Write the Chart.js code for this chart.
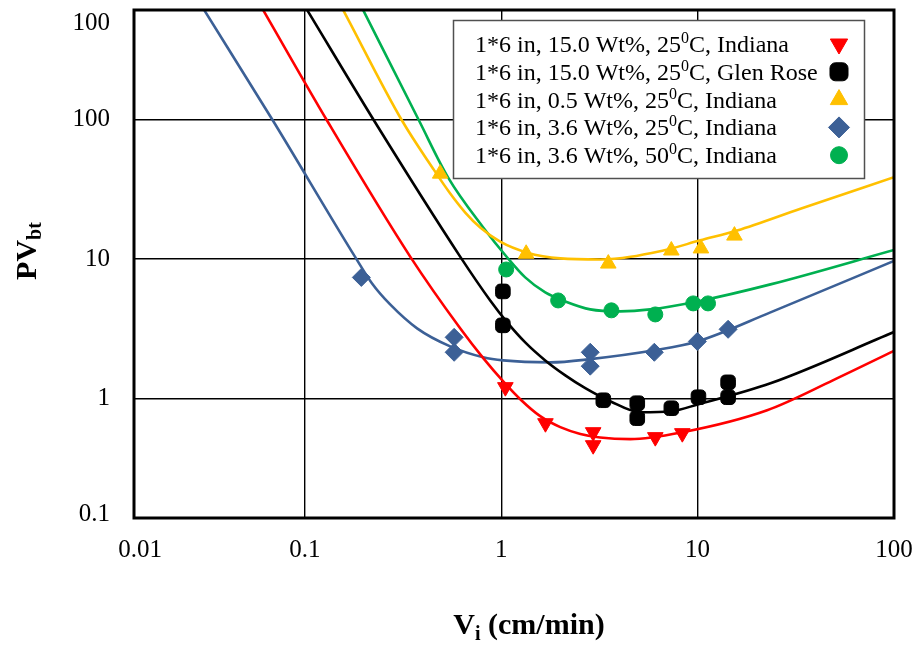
<!DOCTYPE html>
<html>
<head>
<meta charset="utf-8">
<script src="https://cdn.jsdelivr.net/npm/chart.js@4/dist/chart.umd.min.js"></script>
<style>
  html, body { margin: 0; padding: 0; background: #fff; }
</style>
</head>
<body>
<canvas id="pvChart" width="917" height="646"></canvas>
<script>
// tick positions and the labels printed on them (the original axis labels are off by a decade at the ends)
const xTickValues = [0.0145, 0.1, 1, 10, 100];
const xTickLabels = ['0.01', '0.1', '1', '10', '100'];
const yTickValues = [0.1496, 1, 10, 100, 481];
const yTickLabels = ['0.1', '1', '10', '100', '100'];

const seriesLabels = [
  '1*6 in, 15.0 Wt%, 25^0C, Indiana',
  '1*6 in, 15.0 Wt%, 25^0C, Glen Rose',
  '1*6 in, 0.5 Wt%, 25^0C, Indiana',
  '1*6 in, 3.6 Wt%, 25^0C, Indiana',
  '1*6 in, 3.6 Wt%, 50^0C, Indiana'
];
const seriesColors = ['#ff0000', '#000000', '#ffc000', '#3c6096', '#00b050'];

// measured points
const redX = [1.05, 1.68, 2.94, 2.94, 6.09, 8.36];
const redY = [1.21, 0.668, 0.576, 0.465, 0.531, 0.567];
const blackX = [1.02, 1.02, 3.31, 4.93, 4.93, 7.35, 10.1, 14.3, 14.3];
const blackY = [5.86, 3.35, 0.975, 0.929, 0.726, 0.855, 1.025, 1.31, 1.025];
const yellowX = [0.489, 1.34, 3.51, 7.35, 10.4, 15.4];
const yellowY = [40.8, 10.9, 9.27, 11.5, 11.9, 14.7];
const blueX = [0.194, 0.576, 0.576, 2.84, 2.84, 6.02, 9.97, 14.3];
const blueY = [7.38, 2.75, 2.15, 2.15, 1.71, 2.15, 2.57, 3.14];
const greenX = [1.06, 1.95, 3.64, 6.09, 9.5, 11.3];
const greenY = [8.41, 5.05, 4.29, 4.01, 4.81, 4.81];

// fitted curves
const redFitX = [0.0613, 0.130, 0.344, 0.618, 0.810, 1.024, 1.25, 1.58, 2.00, 2.53, 3.19, 4.54, 8.36, 22.6, 49.1, 100];
const redFitY = [606, 97.5, 10.4, 3.19, 1.95, 1.33, 0.992, 0.750, 0.626, 0.560, 0.528, 0.514, 0.576, 0.828, 1.36, 2.2];
const blackFitX = [0.1027, 0.2255, 0.618, 0.879, 1.073, 1.325, 1.676, 2.12, 2.68, 3.59, 5.11, 7.35, 10.1, 23.5, 100];
const blackFitY = [606, 97.5, 10.4, 5.05, 3.52, 2.53, 1.88, 1.47, 1.19, 0.960, 0.801, 0.814, 0.913, 1.29, 3.0];
const yellowFitX = [0.1567, 0.313, 0.450, 0.550, 0.656, 0.782, 0.988, 1.357, 2.00, 3.19, 6.69, 10.3, 15.9, 33.4, 100];
const yellowFitY = [606, 97.5, 44.3, 29.4, 21.5, 16.8, 13.3, 11.1, 10.1, 9.92, 11.5, 13.6, 16.0, 22.9, 38.5];
const blueFitX = [0.0307, 0.0689, 0.180, 0.220, 0.272, 0.373, 0.550, 0.810, 1.024, 1.78, 2.84, 6.02, 9.97, 23.5, 100];
const blueFitY = [606, 97.5, 10.4, 6.68, 4.73, 3.19, 2.37, 1.98, 1.88, 1.82, 1.92, 2.22, 2.57, 4.15, 9.7];
const greenFitX = [0.198, 0.382, 0.537, 0.810, 1.073, 1.325, 1.676, 2.12, 2.84, 4.04, 5.74, 9.97, 23.5, 100];
const greenFitY = [606, 97.5, 38.2, 16.8, 10.25, 7.38, 5.76, 4.97, 4.36, 4.22, 4.36, 4.97, 6.58, 11.6];

const FONT = 'Liberation Serif, Times New Roman, serif';
Chart.defaults.font.family = FONT;
Chart.defaults.color = '#000';

const markerStyles = [
  { pointStyle: 'triangle', rotation: 180, radius: 9, legendRadius: 10 },
  { pointStyle: 'rectRounded', rotation: 0, radius: 8.5, legendRadius: 10.5 },
  { pointStyle: 'triangle', rotation: 0, radius: 9, legendRadius: 10 },
  { pointStyle: 'rectRot', rotation: 0, radius: 9, legendRadius: 10.5 },
  { pointStyle: 'circle', rotation: 0, radius: 7.5, legendRadius: 8.5 }
];

const toPoints = (xs, ys) => xs.map((x, i) => ({ x, y: ys[i] }));
const markerSets = [[redX, redY], [blackX, blackY], [yellowX, yellowY], [blueX, blueY], [greenX, greenY]];
const fitSets = [[redFitX, redFitY], [blackFitX, blackFitY], [yellowFitX, yellowFitY], [blueFitX, blueFitY], [greenFitX, greenFitY]];

const datasets = [];
fitSets.forEach(([xs, ys], i) => {
  datasets.push({
    data: toPoints(xs, ys),
    showLine: true,
    borderColor: seriesColors[i],
    borderWidth: 2.6,
    pointRadius: 0,
    cubicInterpolationMode: 'monotone',
    order: 2
  });
});
markerSets.forEach(([xs, ys], i) => {
  const m = markerStyles[i];
  datasets.push({
    data: toPoints(xs, ys),
    showLine: false,
    backgroundColor: seriesColors[i],
    borderColor: seriesColors[i],
    borderWidth: 1,
    pointStyle: m.pointStyle,
    rotation: m.rotation,
    pointRadius: m.radius,
    order: 1
  });
});

// draws text pieces side by side, with sub/superscripts shifted by dy
function drawPieces(ctx, pieces, x, y, align) {
  let total = 0;
  pieces.forEach(p => { ctx.font = p.font; p.w = ctx.measureText(p.text).width; total += p.w; });
  let cx = align === 'center' ? x - total / 2 : x;
  ctx.textAlign = 'left';
  ctx.textBaseline = 'alphabetic';
  pieces.forEach(p => {
    ctx.font = p.font;
    ctx.fillText(p.text, cx, y + (p.dy || 0));
    cx += p.w;
  });
}

const decorations = {
  id: 'decorations',
  afterDraw(chart) {
    const { ctx, chartArea: a } = chart;
    ctx.save();
    // plot frame
    ctx.strokeStyle = '#000';
    ctx.lineWidth = 3;
    ctx.strokeRect(a.left, a.top, a.right - a.left, a.bottom - a.top);

    // legend box
    ctx.fillStyle = '#fff';
    ctx.fillRect(453, 20, 411, 158);
    ctx.strokeStyle = '#505050';
    ctx.lineWidth = 1.5;
    ctx.strokeRect(453.5, 20.5, 411, 158);
    seriesLabels.forEach((label, i) => {
      const [pre, post] = label.split('^0');
      const base = 52 + i * 27.8;
      ctx.fillStyle = '#000';
      drawPieces(ctx, [
        { text: pre, font: '24px ' + FONT },
        { text: '0', font: '16px ' + FONT, dy: -9 },
        { text: post, font: '24px ' + FONT }
      ], 475, base, 'left');
      const m = markerStyles[i];
      ctx.fillStyle = seriesColors[i];
      ctx.strokeStyle = seriesColors[i];
      ctx.lineWidth = 1;
      Chart.helpers.drawPoint(ctx, { pointStyle: m.pointStyle, rotation: m.rotation, radius: m.legendRadius, borderWidth: 1 }, 839, base - 8);
    });

    // axis titles with subscripts
    ctx.fillStyle = '#000';
    drawPieces(ctx, [
      { text: 'V', font: 'bold 30px ' + FONT },
      { text: 'i', font: 'bold 20px ' + FONT, dy: 6 },
      { text: ' (cm/min)', font: 'bold 30px ' + FONT }
    ], 529, 634, 'center');

    ctx.translate(36, 251);
    ctx.rotate(-Math.PI / 2);
    drawPieces(ctx, [
      { text: 'PV', font: 'bold 30px ' + FONT },
      { text: 'bt', font: 'bold 20px ' + FONT, dy: 5 }
    ], 0, 0, 'center');
    ctx.restore();
  }
};

new Chart(document.getElementById('pvChart').getContext('2d'), {
  type: 'scatter',
  data: { datasets },
  options: {
    responsive: false,
    animation: false,
    events: [],
    layout: { padding: { top: 9, right: 23, left: 0, bottom: 0 } },
    plugins: { legend: { display: false }, tooltip: { enabled: false } },
    scales: {
      x: {
        type: 'logarithmic',
        min: 0.0135,
        max: 100,
        afterBuildTicks: s => { s.ticks = xTickValues.map(v => ({ value: v })); },
        afterFit: s => { s.height = 128; s.paddingLeft = 0; s.paddingRight = 0; },
        grid: {
          color: c => (c.index === 0 ? 'rgba(0,0,0,0)' : '#000'),
          lineWidth: 1.4,
          drawTicks: false
        },
        border: { display: false },
        ticks: {
          autoSkip: false,
          maxRotation: 0,
          padding: 17,
          font: { size: 25 },
          callback: (v, i) => xTickLabels[i]
        }
      },
      y: {
        type: 'logarithmic',
        min: 0.1401,
        max: 605,
        afterBuildTicks: s => { s.ticks = yTickValues.map(v => ({ value: v })); },
        afterFit: s => { s.width = 134; s.paddingTop = 0; s.paddingBottom = 0; },
        grid: {
          color: c => (c.index === 0 || c.index === yTickValues.length - 1 ? 'rgba(0,0,0,0)' : '#000'),
          lineWidth: 1.4,
          drawTicks: false
        },
        border: { display: false },
        ticks: {
          autoSkip: false,
          padding: 24,
          font: { size: 25 },
          callback: (v, i) => yTickLabels[i]
        }
      }
    }
  },
  plugins: [decorations]
});
</script>
</body>
</html>
